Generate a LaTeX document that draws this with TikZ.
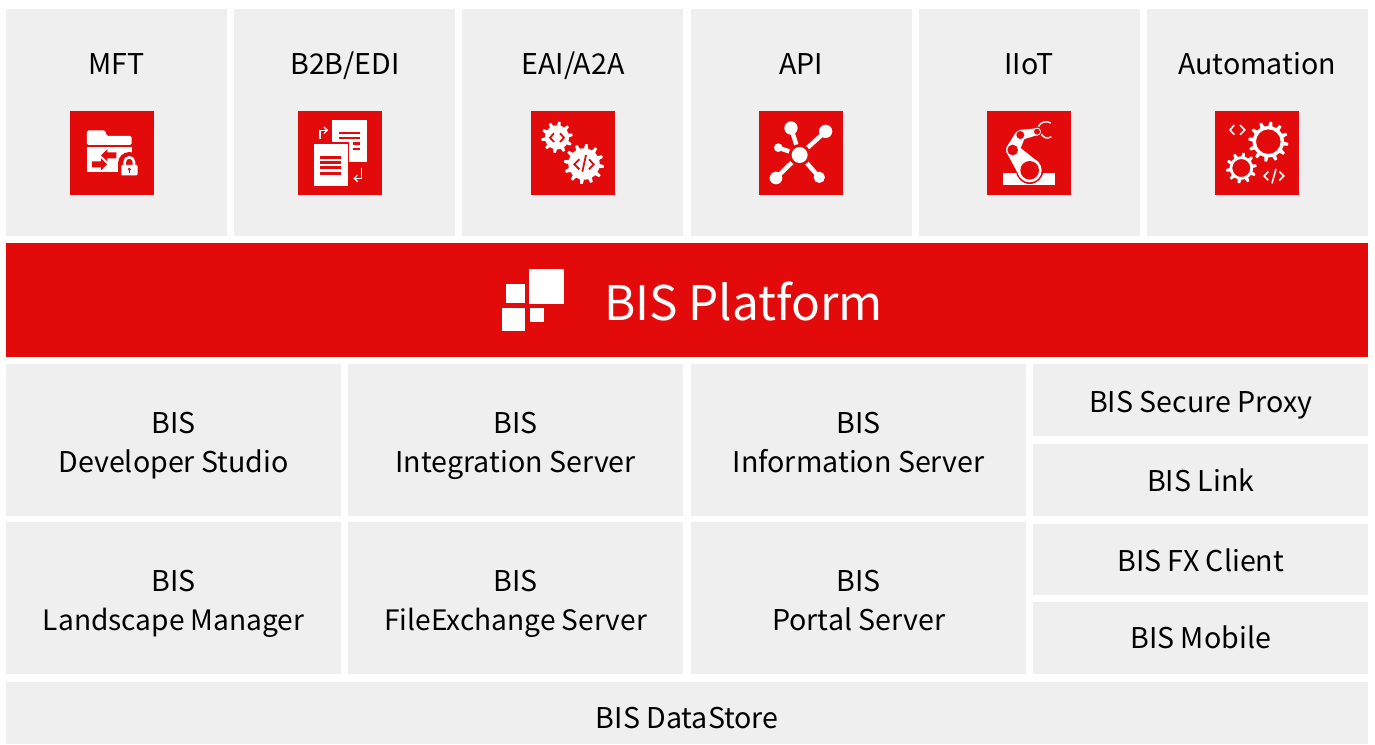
\documentclass[tikz,border=0pt]{standalone}
\usepackage{fontspec}
\setmainfont{Noto Sans CJK SC}
\definecolor{boxgrey}{HTML}{EFEFEF}
\definecolor{bisred}{HTML}{E20A0A}
\newcommand{\st}{\rule[-7pt]{0pt}{29pt}}
\tikzset{
 tile/.style={fill=boxgrey,draw=none,inner sep=0pt},
 lbl/.style={inner sep=0pt,text=black,align=center,font=\fontsize{28.6}{38.8}\selectfont},
 ico/.style={x=0.3333pt,y=-0.3333pt},
 wl/.style={white,line width=#1pt,line cap=butt,line join=miter},
 rl/.style={bisred,line width=#1pt,line cap=butt,line join=miter},
}
% name x0 y0 x1 y1 yshift text
\newcommand{\tilebox}[7]{\node[tile,minimum width=#4pt-#2pt,minimum height=#5pt-#3pt,anchor=north west] (#1) at (#2pt,-#3pt) {};
 \node[lbl] (#1t) at ([yshift=-#6pt]#1.center) {#7};}
\newcommand{\iconbg}[2]{\fill[bisred] (#1pt,-#2pt) rectangle ++(84pt,-84pt);}
% gear: cx cy ro ri teeth hole
\newcommand{\gearshape}[6]{%
 \fill[white,even odd rule,shift={(#1,#2)}]
   plot[samples=#5*8+1,domain=0:360,rotate=90-45/#5] (\x:{(mod(\x+1,360/#5)<112.5/#5)?#3:#4}) -- cycle
   (0,0) circle[radius=#6];}
\begin{document}
\begin{tikzpicture}[x=1pt,y=1pt]
\useasboundingbox (0,0) rectangle (1375,-744);
\fill[white] (0,0) rectangle (1375,-744);
% top tiles
\tilebox{mft}{6}{9}{227}{236}{0}{}
\tilebox{btb}{234}{9}{455}{236}{0}{}
\tilebox{eai}{462}{9}{683}{236}{0}{}
\tilebox{api}{691}{9}{912}{236}{0}{}
\tilebox{iiot}{919}{9}{1140}{236}{0}{}
\tilebox{auto}{1147}{9}{1368}{236}{0}{}
\node[lbl] (tmft) at (116.5,-67) {\st MFT};
\node[lbl] (tbtb) at (345,-67) {\st B2B/EDI};
\node[lbl] (teai) at (573,-67) {\st EAI/A2A};
\node[lbl] (tapi) at (801,-67) {\st API};
\node[lbl] (tiiot) at (1029,-67) {\st IIoT};
\node[lbl] (tauto) at (1257,-67) {\st Automation};
% platform
\node[fill=bisred,minimum width=1362pt,minimum height=114pt,inner sep=0pt,anchor=north west] (plat) at (6,-243) {};
\node[text=white,inner sep=0pt,anchor=west,font=\fontsize{47.7}{58}\selectfont] (tplat) at (604,-302) {BIS Platform};
\fill[white] (529,-269) rectangle (564,-304);
\fill[white] (506,-284) rectangle (525,-303);
\fill[white] (502,-308) rectangle (525,-331);
\fill[white] (530,-308) rectangle (544,-322);
% lower tiles
\tilebox{dev}{6}{364}{341}{516}{5}{\st BIS\\\st Developer Studio}
\tilebox{int}{348}{364}{683}{516}{5}{\st BIS\\\st Integration Server}
\tilebox{inf}{691}{364}{1026}{516}{5}{\st BIS\\\st Information Server}
\tilebox{lan}{6}{522}{341}{674}{5}{\st BIS\\\fontsize{28.1}{38.8}\selectfont\st Landscape Manager}
\tilebox{fil}{348}{522}{683}{674}{5}{\st BIS\\\fontsize{28.1}{38.8}\selectfont\st FileExchange Server}
\tilebox{por}{691}{522}{1026}{674}{5}{\st BIS\\\st Portal Server}
\tilebox{sec}{1033}{364}{1368}{436}{5}{\st BIS Secure Proxy}
\tilebox{lnk}{1033}{444}{1368}{516}{3}{\st BIS Link}
\tilebox{fxc}{1033}{524}{1368}{595}{4}{\st BIS FX Client}
\tilebox{mob}{1033}{602}{1368}{674}{2}{\st BIS Mobile}
\tilebox{dat}{6}{682}{1368}{744}{8}{\st BIS DataStore}
% icon backgrounds
\iconbg{70}{111}\iconbg{298}{111}\iconbg{531}{111}\iconbg{759}{111}\iconbg{987}{111}\iconbg{1215}{111}
% MFT icon
\begin{scope}[shift={(50,-100)},ico]
 \fill[white,rounded corners=1.5pt] (111,135) -- (111,91) -- (166,91) -- (170,108) -- (245,108) -- (245,135) -- cycle;
 \fill[white] (111,141) rectangle (245,217);
 \fill[bisred] (199,157) -- (172,157) -- (172,148) -- (153,166) -- (172,184) -- (172,175) -- (199,175) -- cycle;
 \fill[bisred] (126,184) -- (153,184) -- (153,175) -- (171,193) -- (153,211) -- (153,202) -- (126,202) -- cycle;
 \fill[bisred] (205,190) rectangle (272,232);
 \fill[bisred] (238,190) circle[radius=34];
 \draw[wl=2.6] (224,196) -- (224,186) arc[start angle=180,end angle=360,radius=14] -- (252,196);
 \fill[white,rounded corners=1pt] (214,195) rectangle (263,226);
 \fill[bisred] (238,208) circle[radius=5];
 \fill[bisred] (236,208) rectangle (240,218);
\end{scope}
% B2B icon
\begin{scope}[shift={(50,-100)},ico]
 \fill[white] (847,60) rectangle (951,187);
 \fill[bisred] (868,95) rectangle (930,103);
 \fill[bisred] (868,110) rectangle (930,118);
 \fill[bisred] (908,127) rectangle (930,134);
 \fill[bisred] (908,143) rectangle (930,150);
 \fill[bisred] (785,126) rectangle (898,263);
 \fill[white] (791,132) rectangle (893,257);
 \fill[bisred] (810,167) rectangle (872,176);
 \fill[bisred] (810,184) rectangle (872,192);
 \fill[bisred] (810,199) rectangle (872,208);
 \fill[bisred] (810,215) rectangle (872,224);
 \draw[wl=1.2] (810,116) -- (810,91) -- (830,91);
 \draw[wl=1.2] (822,81) -- (832,91) -- (822,101);
 \draw[wl=1.2] (935,203) -- (935,235) -- (914,235);
 \draw[wl=1.2] (923,225) -- (913,235) -- (923,245);
\end{scope}
% EAI icon
\begin{scope}[shift={(510,-100)},ico]
 \gearshape{141}{112}{47}{36}{10}{0}
 \gearshape{222}{192}{60}{47}{12}{0}
 \draw[rl=1.8] (132,100) -- (120,113) -- (132,126);
 \draw[rl=1.8] (150,100) -- (162,113) -- (150,126);
 \draw[rl=1.8] (208,178) -- (193,193) -- (208,208);
 \draw[rl=1.8] (237,178) -- (251,193) -- (237,208);
 \draw[rl=1.8] (228,165) -- (217,215);
\end{scope}
% API icon
\begin{scope}[shift={(510,-100)},ico]
 \foreach \lx/\ly in {843/84,947/94,805/143,798/234,928/232}
   \draw[wl=4.4] (\lx,\ly) -- (869,165);
 \fill[bisred] (869,165) circle[radius=33];
 \fill[white] (869,165) circle[radius=24];
 \fill[white] (843,84) circle[radius=20];
 \fill[white] (947,94) circle[radius=20];
 \fill[white] (805,143) circle[radius=13];
 \fill[white] (798,234) circle[radius=19];
 \fill[white] (928,232) circle[radius=17];
\end{scope}
% IIoT icon
\begin{scope}[shift={(987,-111)},ico]
 \fill[white] (49,186) rectangle (205,222);
 \fill[bisred] (128,178) circle[radius=41];
 \fill[white] (128,178) circle[radius=36];
 \fill[white] (77,117) circle[radius=20];
 \fill[white] (100,72) circle[radius=15];
 \fill[white] (62,130) -- (100,201) -- (156,155) -- (92,104) -- cycle;
 \fill[white] (59,108) -- (86,65) -- (114,79) -- (95,126) -- cycle;
 \fill[white] (97,57) -- (148,52) -- (152,72) -- (103,87) -- cycle;
 \fill[bisred] (128,178) circle[radius=28];
 \fill[bisred] (77,117) circle[radius=16];
 \fill[bisred] (100,72) circle[radius=12];
 \fill[white] (150,62) circle[radius=12];
 \fill[bisred] (150,62) circle[radius=9];
 \draw[wl=1.4] (154,47) .. controls (160,33) and (178,28) .. (191,36);
 \draw[wl=1.4] (163,69) .. controls (170,82) and (182,84) .. (193,77);
\end{scope}
% Automation icon
\begin{scope}[shift={(970,-100)},ico]
 \gearshape{895}{125}{60}{47}{12}{37}
 \gearshape{814}{204}{46}{35}{10}{27}
 \draw[wl=1.6] (793,75) -- (780,90) -- (793,104);
 \draw[wl=1.6] (810,75) -- (824,90) -- (810,104);
 \draw[wl=1.6] (895,215) -- (882,228) -- (895,241);
 \draw[wl=1.6] (928,215) -- (941,228) -- (928,241);
 \draw[wl=1.6] (918,207) -- (906,250);
\end{scope}
\end{tikzpicture}
\end{document}
